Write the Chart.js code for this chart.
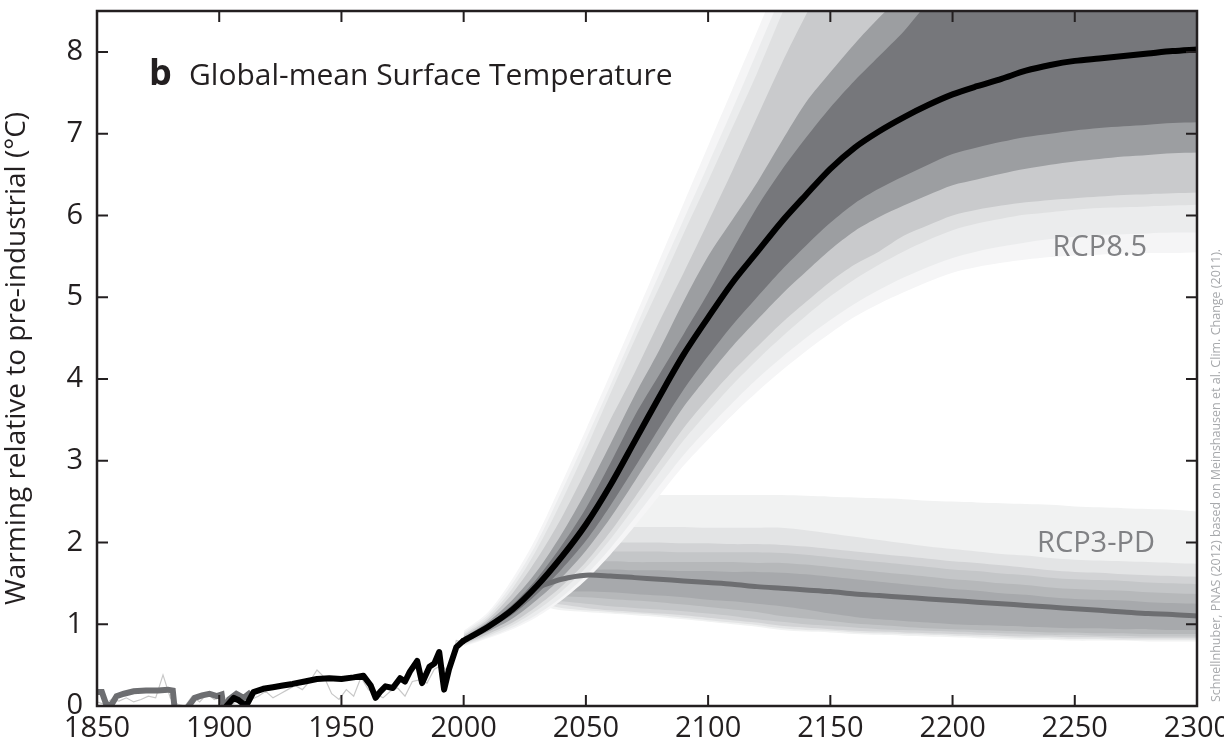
<!DOCTYPE html>
<html lang="en">
<head>
  <meta charset="UTF-8">
  <title>Global-mean Surface Temperature</title>
  <script src="https://cdn.jsdelivr.net/npm/chart.js@4.4.1/dist/chart.umd.min.js"></script>
  <style>
    html, body { margin: 0; padding: 0; background: #fff; }
    #wrap { width: 1224px; height: 749px; }
  </style>
</head>
<body>
  <div id="wrap"><canvas id="grafico" width="1224" height="749"></canvas></div>

<script>
  // ---- dados ----
  var xTicks = [1850, 1900, 1950, 2000, 2050, 2100, 2150, 2200, 2250, 2300];
  var yTicks = [0, 1, 2, 3, 4, 5, 6, 7, 8];

  // observacoes (linha cinza fina)
  var obsAnos = [1850,1853,1856,1859,1862,1865,1868,1871,1874,1877,1880,1883,1886,1889,1892,1895,1898,1901,1904,1907,1910,1913,1916,1919,1922,1925,1928,1931,1934,1937,1940,1943,1946,1949,1952,1955,1958,1961,1964,1967,1970,1973,1976,1979,1982,1985,1988,1991,1994,1997,2000,2003,2006,2009];
  var obsValores = [0.05,0.02,0.08,0.06,0.10,0.05,0.08,0.12,0.10,0.38,0.10,0.02,0.00,0.12,0.05,0.15,0.08,0.12,0.00,0.05,0.02,0.08,0.12,0.18,0.10,0.15,0.20,0.25,0.20,0.30,0.44,0.35,0.15,0.08,0.20,0.12,0.35,0.20,0.15,0.10,0.18,0.22,0.12,0.30,0.32,0.28,0.45,0.50,0.40,0.80,0.78,0.88,0.92,0.95];

  // historico cinza escuro (antes de 1910)
  var cinzaAnos = [1850,1852,1854,1856,1858,1861,1865,1870,1875,1879,1881,1882,1885,1888,1890,1893,1896,1899,1901,1902,1904,1907,1910,1913];
  var cinzaValores = [0.17,0.17,0.00,0.02,0.12,0.15,0.18,0.19,0.19,0.20,0.19,-0.10,-0.10,0.02,0.10,0.13,0.15,0.12,0.14,-0.05,0.08,0.15,0.10,0.17];

  // historico preto
  var histAnos = [1901,1903,1906,1908,1911,1914,1918,1922,1926,1930,1935,1940,1945,1950,1955,1959,1962,1964,1966,1968,1971,1974,1976,1978,1981,1983,1986,1988,1990,1992,1994,1997,2000];
  var histValores = [-0.10,0.00,0.10,0.07,0.00,0.17,0.21,0.23,0.25,0.27,0.30,0.33,0.34,0.33,0.35,0.37,0.25,0.10,0.18,0.24,0.22,0.34,0.30,0.42,0.55,0.28,0.48,0.52,0.66,0.20,0.45,0.72,0.80];

  // RCP8.5
  var anos85 = [2000,2010,2020,2030,2040,2050,2060,2070,2080,2090,2100,2110,2120,2130,2140,2150,2160,2170,2180,2190,2200,2210,2220,2230,2240,2250,2260,2270,2280,2290,2300];
  var mediana85 = [0.80,0.97,1.18,1.47,1.82,2.22,2.70,3.24,3.78,4.30,4.75,5.18,5.55,5.92,6.25,6.57,6.83,7.03,7.20,7.35,7.48,7.58,7.67,7.77,7.84,7.89,7.92,7.95,7.98,8.01,8.03];
  // faixa escura
  var escuraSup85 = [0.82,1.00,1.24,1.56,1.96,2.42,2.97,3.55,4.05,4.55,5.05,5.58,6.10,6.55,6.95,7.32,7.65,7.95,8.25,8.60,8.85,9.05,9.20,9.30,9.40,9.45,9.50,9.55,9.60,9.60,9.60];
  var escuraInf85 = [0.78,0.94,1.12,1.37,1.67,2.02,2.45,2.92,3.40,3.87,4.28,4.66,5.00,5.33,5.63,5.91,6.15,6.33,6.48,6.62,6.75,6.83,6.90,6.96,7.00,7.04,7.07,7.09,7.11,7.13,7.14];
  // faixa media
  var mediaSup85 = [0.84,1.03,1.30,1.65,2.10,2.62,3.20,3.80,4.35,4.95,5.50,5.95,6.40,6.90,7.38,7.75,8.10,8.42,8.70,8.95,9.20,9.40,9.50,9.60,9.70,9.75,9.80,9.80,9.80,9.80,9.80];
  var mediaInf85 = [0.77,0.91,1.07,1.30,1.57,1.90,2.30,2.75,3.21,3.66,4.04,4.40,4.72,5.03,5.31,5.58,5.81,5.98,6.12,6.25,6.37,6.44,6.51,6.57,6.62,6.66,6.69,6.72,6.74,6.76,6.77];
  // faixa clara
  var claraSup85 = [0.86,1.06,1.38,1.80,2.30,2.88,3.50,4.08,4.70,5.30,5.92,6.55,7.20,7.85,8.45,9.00,9.40,9.70,9.90,10.0,10.0,10.0,10.0,10.0,10.0,10.0,10.0,10.0,10.0,10.0,10.0];
  var claraInf85 = [0.76,0.88,1.02,1.22,1.46,1.76,2.13,2.55,2.98,3.40,3.76,4.09,4.39,4.68,4.94,5.19,5.40,5.56,5.75,5.88,6.00,6.07,6.12,6.16,6.19,6.21,6.23,6.25,6.26,6.27,6.28];
  // faixas mais claras
  var clara1Sup85 = [0.88,1.09,1.44,1.92,2.50,3.14,3.82,4.48,5.12,5.78,6.42,7.08,7.74,8.45,9.10,9.60,9.90,10.1,10.2,10.3,10.3,10.3,10.3,10.3,10.3,10.3,10.3,10.3,10.3,10.3,10.3];
  var clara1Inf85 = [0.75,0.86,0.99,1.17,1.40,1.69,2.04,2.44,2.85,3.25,3.60,3.93,4.23,4.51,4.77,5.01,5.22,5.40,5.56,5.70,5.82,5.90,5.96,6.01,6.04,6.07,6.09,6.10,6.11,6.12,6.13];
  var clara2Sup85 = [0.90,1.12,1.50,2.00,2.62,3.26,3.92,4.60,5.28,5.95,6.62,7.30,8.00,8.70,9.40,9.90,10.2,10.4,10.5,10.6,10.6,10.6,10.6,10.6,10.6,10.6,10.6,10.6,10.6,10.6,10.6];
  var clara2Inf85 = [0.74,0.84,0.96,1.12,1.33,1.60,1.93,2.30,2.69,3.07,3.40,3.71,4.00,4.26,4.50,4.72,4.92,5.09,5.24,5.37,5.48,5.56,5.62,5.67,5.71,5.74,5.76,5.77,5.78,5.79,5.79];
  var clara3Sup85 = [0.92,1.15,1.56,2.08,2.72,3.38,4.06,4.75,5.45,6.15,6.85,7.55,8.25,8.95,9.65,10.2,10.5,10.7,10.8,10.9,10.9,10.9,10.9,10.9,10.9,10.9,10.9,10.9,10.9,10.9,10.9];
  var clara3Inf85 = [0.73,0.83,0.94,1.09,1.29,1.54,1.85,2.20,2.57,2.94,3.26,3.56,3.84,4.10,4.34,4.56,4.76,4.92,5.06,5.19,5.30,5.37,5.42,5.46,5.49,5.51,5.52,5.53,5.54,5.54,5.55];

  // RCP3-PD
  var anos3 = [2020,2030,2040,2050,2060,2070,2080,2090,2100,2110,2120,2130,2140,2150,2160,2170,2180,2190,2200,2210,2220,2230,2240,2250,2260,2270,2280,2290,2300];
  var mediana3 = [1.18,1.45,1.55,1.60,1.59,1.57,1.55,1.53,1.51,1.49,1.46,1.44,1.42,1.40,1.37,1.35,1.33,1.31,1.29,1.27,1.25,1.23,1.21,1.19,1.17,1.15,1.13,1.12,1.10];
  var f1Sup3 = [1.20,1.50,1.62,1.66,1.67,1.66,1.66,1.65,1.65,1.64,1.64,1.63,1.61,1.58,1.55,1.52,1.49,1.46,1.43,1.41,1.38,1.36,1.33,1.31,1.30,1.29,1.27,1.26,1.25];
  var f1Inf3 = [1.16,1.38,1.40,1.40,1.39,1.37,1.35,1.33,1.30,1.28,1.25,1.22,1.18,1.13,1.09,1.06,1.04,1.02,1.00,0.99,0.98,0.97,0.96,0.95,0.95,0.94,0.94,0.93,0.93];
  var f2Sup3 = [1.22,1.55,1.72,1.76,1.77,1.76,1.76,1.76,1.76,1.76,1.75,1.75,1.73,1.70,1.67,1.64,1.61,1.58,1.55,1.53,1.50,1.48,1.45,1.43,1.42,1.41,1.39,1.38,1.37];
  var f2Inf3 = [1.14,1.34,1.34,1.33,1.31,1.29,1.27,1.24,1.21,1.18,1.15,1.10,1.07,1.04,1.01,0.99,0.97,0.95,0.94,0.93,0.92,0.91,0.90,0.90,0.89,0.89,0.88,0.88,0.88];
  var f3Sup3 = [1.24,1.62,1.82,1.88,1.89,1.89,1.89,1.88,1.88,1.88,1.88,1.87,1.85,1.82,1.79,1.76,1.73,1.70,1.67,1.65,1.62,1.60,1.57,1.55,1.54,1.53,1.51,1.50,1.49];
  var f3Inf3 = [1.12,1.30,1.28,1.25,1.22,1.20,1.18,1.16,1.13,1.10,1.06,1.03,1.00,0.98,0.96,0.94,0.93,0.92,0.91,0.90,0.89,0.88,0.87,0.87,0.86,0.86,0.85,0.85,0.85];
  var f4Sup3 = [1.26,1.68,1.92,1.99,2.00,2.00,2.00,1.99,1.99,1.98,1.98,1.97,1.95,1.92,1.89,1.86,1.83,1.80,1.77,1.75,1.72,1.69,1.66,1.64,1.63,1.61,1.60,1.59,1.58];
  var f4Inf3 = [1.10,1.27,1.24,1.20,1.17,1.15,1.13,1.11,1.08,1.05,1.02,0.98,0.96,0.94,0.92,0.91,0.90,0.89,0.88,0.87,0.86,0.85,0.85,0.84,0.84,0.83,0.83,0.83,0.83];
  var f5Sup3 = [1.28,1.75,2.08,2.17,2.19,2.19,2.19,2.19,2.18,2.18,2.18,2.18,2.15,2.11,2.07,2.03,1.99,1.95,1.92,1.89,1.86,1.84,1.81,1.79,1.78,1.77,1.76,1.75,1.74];
  var f5Inf3 = [1.08,1.24,1.20,1.17,1.15,1.13,1.11,1.08,1.05,1.02,0.99,0.95,0.93,0.92,0.90,0.89,0.88,0.87,0.86,0.85,0.84,0.83,0.83,0.82,0.82,0.81,0.81,0.81,0.81];
  var f6Sup3 = [1.30,1.90,2.40,2.55,2.58,2.58,2.58,2.58,2.58,2.58,2.58,2.58,2.57,2.56,2.55,2.54,2.53,2.51,2.50,2.49,2.48,2.47,2.46,2.44,2.43,2.42,2.41,2.40,2.38];
  var f6Inf3 = [1.06,1.21,1.17,1.15,1.13,1.11,1.09,1.06,1.03,1.00,0.97,0.93,0.91,0.90,0.88,0.87,0.86,0.85,0.84,0.83,0.82,0.81,0.81,0.80,0.80,0.80,0.79,0.79,0.79];

  // ---- montagem dos datasets ----
  function pares(anos, valores) {
    return anos.map(function (a, i) { return { x: a, y: valores[i] }; });
  }

  var datasets = [];

  // faixa = par (superior preenchido ate o inferior)
  function faixa(anos, sup, inf, cor, ordem) {
    var idxInf = datasets.length + 1;
    datasets.push({
      data: pares(anos, sup), borderWidth: 0, pointRadius: 0,
      backgroundColor: cor, fill: idxInf, order: ordem, tension: 0.3, clip: 0
    });
    datasets.push({
      data: pares(anos, inf), borderWidth: 0, pointRadius: 0,
      fill: false, order: ordem, tension: 0.3, clip: 0
    });
  }

  // RCP3-PD por baixo
  faixa(anos3, f6Sup3, f6Inf3, '#f1f2f2', 100);
  faixa(anos3, f5Sup3, f5Inf3, '#e3e4e5', 99);
  faixa(anos3, f4Sup3, f4Inf3, '#d2d3d5', 98);
  faixa(anos3, f3Sup3, f3Inf3, '#c4c6c8', 97);
  faixa(anos3, f2Sup3, f2Inf3, '#b6b8ba', 96);
  faixa(anos3, f1Sup3, f1Inf3, '#a7a9ac', 95);

  // RCP8.5 por cima
  faixa(anos85, clara3Sup85, clara3Inf85, '#f5f5f6', 90);
  faixa(anos85, clara2Sup85, clara2Inf85, '#ebeced', 89);
  faixa(anos85, clara1Sup85, clara1Inf85, '#dfe0e1', 88);
  faixa(anos85, claraSup85, claraInf85, '#c9cacc', 87);
  faixa(anos85, mediaSup85, mediaInf85, '#9c9ea1', 86);
  faixa(anos85, escuraSup85, escuraInf85, '#76777b', 85);

  // linhas
  datasets.push({ data: pares(obsAnos, obsValores), borderColor: '#c8c8c8', borderWidth: 1.2,
    pointRadius: 0, fill: false, order: 10, clip: 0 });
  datasets.push({ data: pares(cinzaAnos, cinzaValores), borderColor: '#6d6e71', borderWidth: 6,
    pointRadius: 0, fill: false, order: 9, clip: 0 });
  datasets.push({ data: pares(anos3, mediana3).slice(1), borderColor: '#6d6e71', borderWidth: 5,
    pointRadius: 0, fill: false, order: 5, tension: 0.3 });
  datasets.push({ data: pares(histAnos, histValores), borderColor: '#000', borderWidth: 6,
    pointRadius: 0, fill: false, order: 1, clip: 0, borderJoinStyle: 'round' });
  datasets.push({ data: pares(anos85, mediana85), borderColor: '#000', borderWidth: 6,
    pointRadius: 0, fill: false, order: 0, tension: 0.3, borderCapStyle: 'round' });

  var corTexto = '#231f20';

  // moldura, tiques internos e textos
  var enfeites = {
    id: 'enfeites',
    afterDraw: function (chart) {
      var ctx = chart.ctx;
      var a = chart.chartArea;
      var sx = chart.scales.x, sy = chart.scales.y;
      ctx.save();
      ctx.strokeStyle = corTexto;
      ctx.lineWidth = 2;
      xTicks.forEach(function (t) {
        var px = sx.getPixelForValue(t);
        ctx.beginPath();
        ctx.moveTo(px, a.bottom); ctx.lineTo(px, a.bottom - 11);
        ctx.moveTo(px, a.top); ctx.lineTo(px, a.top + 11);
        ctx.stroke();
      });
      yTicks.forEach(function (t) {
        var py = sy.getPixelForValue(t);
        ctx.beginPath();
        ctx.moveTo(a.left, py); ctx.lineTo(a.left + 11, py);
        ctx.moveTo(a.right, py); ctx.lineTo(a.right - 11, py);
        ctx.stroke();
      });
      ctx.lineWidth = 2.5;
      ctx.strokeRect(a.left, a.top, a.right - a.left, a.bottom - a.top);

      // titulo
      ctx.fillStyle = corTexto;
      ctx.textBaseline = 'alphabetic';
      ctx.textAlign = 'left';
      ctx.font = 'bold 36px "Open Sans"';
      ctx.fillText('b', a.left + 52, a.top + 74);
      ctx.font = '30px "Open Sans"';
      ctx.fillText('Global-mean Surface Temperature', a.left + 92, a.top + 74);

      // rotulos dos cenarios
      ctx.fillStyle = '#808184';
      ctx.font = '29px "Open Sans"';
      ctx.textAlign = 'right';
      ctx.fillText('RCP8.5', a.right - 50, sy.getPixelForValue(5.5));
      ctx.fillText('RCP3-PD', a.right - 42, sy.getPixelForValue(1.88));

      // credito
      ctx.translate(a.right + 19, a.bottom - 4);
      ctx.rotate(-Math.PI / 2);
      ctx.fillStyle = '#a7a9ac';
      ctx.font = '12.5px "Open Sans"';
      ctx.textAlign = 'left';
      ctx.textBaseline = 'middle';
      ctx.fillText('Schnellnhuber, PNAS (2012) based on Meinshausen et al. Clim. Change (2011).', 0, 0);
      ctx.restore();
    }
  };

  var grafico = new Chart(document.getElementById('grafico'), {
    type: 'line',
    data: { datasets: datasets },
    options: {
      responsive: false,
      animation: false,
      events: [],
      layout: { padding: { top: 11, right: 27, left: 0, bottom: 0 } },
      plugins: {
        legend: { display: false },
        tooltip: { enabled: false },
        filler: { propagate: false }
      },
      scales: {
        x: {
          type: 'linear',
          min: 1850,
          max: 2300,
          afterFit: function (s) { s.height = 43; s.paddingLeft = 0; s.paddingRight = 0; },
          afterBuildTicks: function (s) { s.ticks = xTicks.map(function (v) { return { value: v }; }); },
          grid: { display: false, drawTicks: false },
          border: { display: false },
          ticks: {
            padding: 5,
            color: corTexto,
            font: { family: 'Open Sans', size: 29 },
            maxRotation: 0,
            autoSkip: false,
            callback: function (v) { return String(v); }
          }
        },
        y: {
          min: 0,
          max: 8.5,
          afterFit: function (s) { s.width = 97; s.paddingTop = 0; s.paddingBottom = 0; },
          afterBuildTicks: function (s) { s.ticks = yTicks.map(function (v) { return { value: v }; }); },
          grid: { display: false, drawTicks: false },
          border: { display: false },
          title: {
            display: true,
            text: 'Warming relative to pre-industrial (°C)',
            color: corTexto,
            font: { family: 'Open Sans', size: 28 },
            padding: { top: 0, bottom: 3 }
          },
          ticks: {
            padding: 14,
            color: corTexto,
            font: { family: 'Open Sans', size: 29 },
            callback: function (v) { return String(v); }
          }
        }
      }
    },
    plugins: [enfeites]
  });
</script>
</body>
</html>
